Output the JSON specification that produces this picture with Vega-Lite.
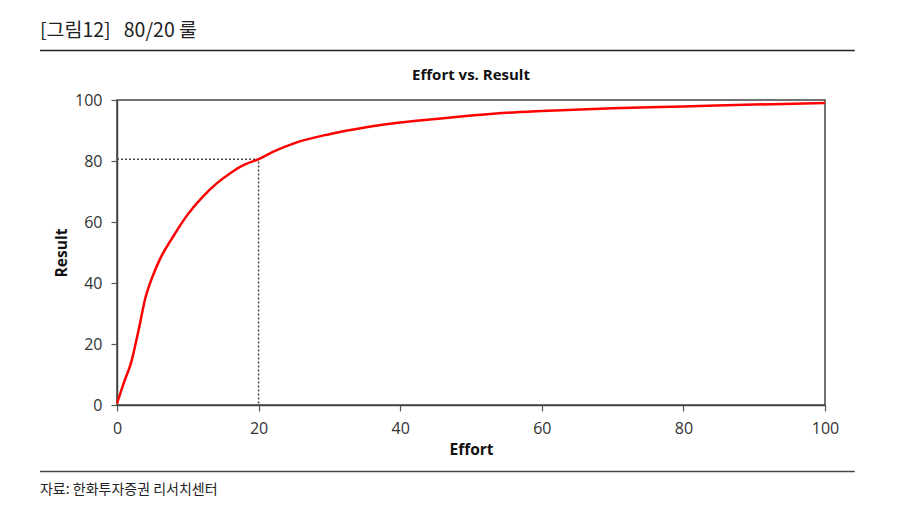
{
  "$schema": "https://vega.github.io/schema/vega-lite/v6.json",
  "width": 708,
  "height": 305,
  "autosize": {"type": "none"},
  "padding": {"left": 117, "top": 100, "right": 75, "bottom": 108},
  "background": "white",
  "config": {
    "font": "Noto Sans CJK KR",
    "view": {"stroke": "#444", "strokeWidth": 1.5},
    "axis": {
      "grid": false,
      "labelFont": "Open Sans",
      "labelFontSize": 16,
      "labelColor": "#333",
      "labelFlush": false,
      "titleFont": "Open Sans",
      "titleFontSize": 15.5,
      "titleFontWeight": "bold",
      "titleColor": "#111",
      "domainColor": "#444",
      "domainWidth": 1.5,
      "tickColor": "#555",
      "tickWidth": 1.2,
      "tickSize": 6
    }
  },
  "datasets": {
    "curve": [
      {"Effort": 0, "Result": 0.5},
      {"Effort": 1, "Result": 7.5},
      {"Effort": 2, "Result": 14},
      {"Effort": 3, "Result": 24},
      {"Effort": 4, "Result": 35},
      {"Effort": 5, "Result": 42},
      {"Effort": 6, "Result": 47.5},
      {"Effort": 8, "Result": 55.5},
      {"Effort": 10, "Result": 62.5},
      {"Effort": 12, "Result": 68},
      {"Effort": 14, "Result": 72.5},
      {"Effort": 16, "Result": 76},
      {"Effort": 18, "Result": 78.8},
      {"Effort": 20, "Result": 80.6},
      {"Effort": 22, "Result": 83},
      {"Effort": 25, "Result": 85.8},
      {"Effort": 30, "Result": 88.8},
      {"Effort": 35, "Result": 91},
      {"Effort": 40, "Result": 92.6},
      {"Effort": 45, "Result": 93.8},
      {"Effort": 50, "Result": 94.9},
      {"Effort": 55, "Result": 95.8},
      {"Effort": 60, "Result": 96.4},
      {"Effort": 70, "Result": 97.3},
      {"Effort": 80, "Result": 97.9},
      {"Effort": 90, "Result": 98.5},
      {"Effort": 100, "Result": 99}
    ],
    "guide": [
      {"step": 1, "Effort": 0, "Result": 80.6},
      {"step": 2, "Effort": 20, "Result": 80.6},
      {"step": 3, "Effort": 20, "Result": 0}
    ]
  },
  "layer": [
    {
      "data": {"name": "guide"},
      "mark": {"type": "line", "color": "#444", "strokeWidth": 1.5, "strokeDash": [2, 2]},
      "encoding": {
        "x": {
          "field": "Effort", "type": "quantitative",
          "scale": {"domain": [0, 100], "nice": false},
          "axis": {"values": [0, 20, 40, 60, 80, 100], "title": "Effort", "labelPadding": 9, "titlePadding": 6}
        },
        "y": {
          "field": "Result", "type": "quantitative",
          "scale": {"domain": [0, 100], "nice": false},
          "axis": {"values": [0, 20, 40, 60, 80, 100], "title": "Result", "labelPadding": 9, "titlePadding": 5}
        },
        "order": {"field": "step", "type": "quantitative"}
      }
    },
    {
      "data": {"name": "curve"},
      "mark": {"type": "line", "color": "#ff0000", "strokeWidth": 2.5, "interpolate": "monotone"},
      "encoding": {
        "x": {"field": "Effort", "type": "quantitative"},
        "y": {"field": "Result", "type": "quantitative"}
      }
    },
    {
      "data": {"values": [{}]},
      "mark": {"type": "text", "font": "Open Sans", "fontSize": 15, "fontWeight": "bold", "color": "#111", "align": "center", "baseline": "middle"},
      "encoding": {
        "x": {"datum": 50, "type": "quantitative"},
        "y": {"datum": 108.2, "type": "quantitative"},
        "text": {"value": "Effort vs. Result"}
      }
    },
    {
      "data": {"values": [{}]},
      "mark": {"type": "text", "fontSize": 19.5, "fontWeight": "normal", "color": "#222", "align": "left", "baseline": "middle"},
      "encoding": {
        "x": {"datum": -10.88, "type": "quantitative"},
        "y": {"datum": 122.6, "type": "quantitative"},
        "text": {"value": "[그림12]\u00a0\u00a0 80/20 룰"}
      }
    },
    {
      "data": {"values": [{}]},
      "mark": {"type": "text", "fontSize": 14, "fontWeight": "normal", "color": "#222", "align": "left", "baseline": "middle"},
      "encoding": {
        "x": {"datum": -10.88, "type": "quantitative"},
        "y": {"datum": -27.9, "type": "quantitative"},
        "text": {"value": "자료: 한화투자증권 리서치센터"}
      }
    },
    {
      "data": {"values": [{}]},
      "mark": {"type": "rule", "color": "#222", "strokeWidth": 1.5},
      "encoding": {
        "x": {"datum": -10.88, "type": "quantitative"},
        "x2": {"datum": 104.2},
        "y": {"datum": 116.2, "type": "quantitative"}
      }
    },
    {
      "data": {"values": [{}]},
      "mark": {"type": "rule", "color": "#444", "strokeWidth": 1.5},
      "encoding": {
        "x": {"datum": -10.88, "type": "quantitative"},
        "x2": {"datum": 104.2},
        "y": {"datum": -21.8, "type": "quantitative"}
      }
    }
  ]
}
